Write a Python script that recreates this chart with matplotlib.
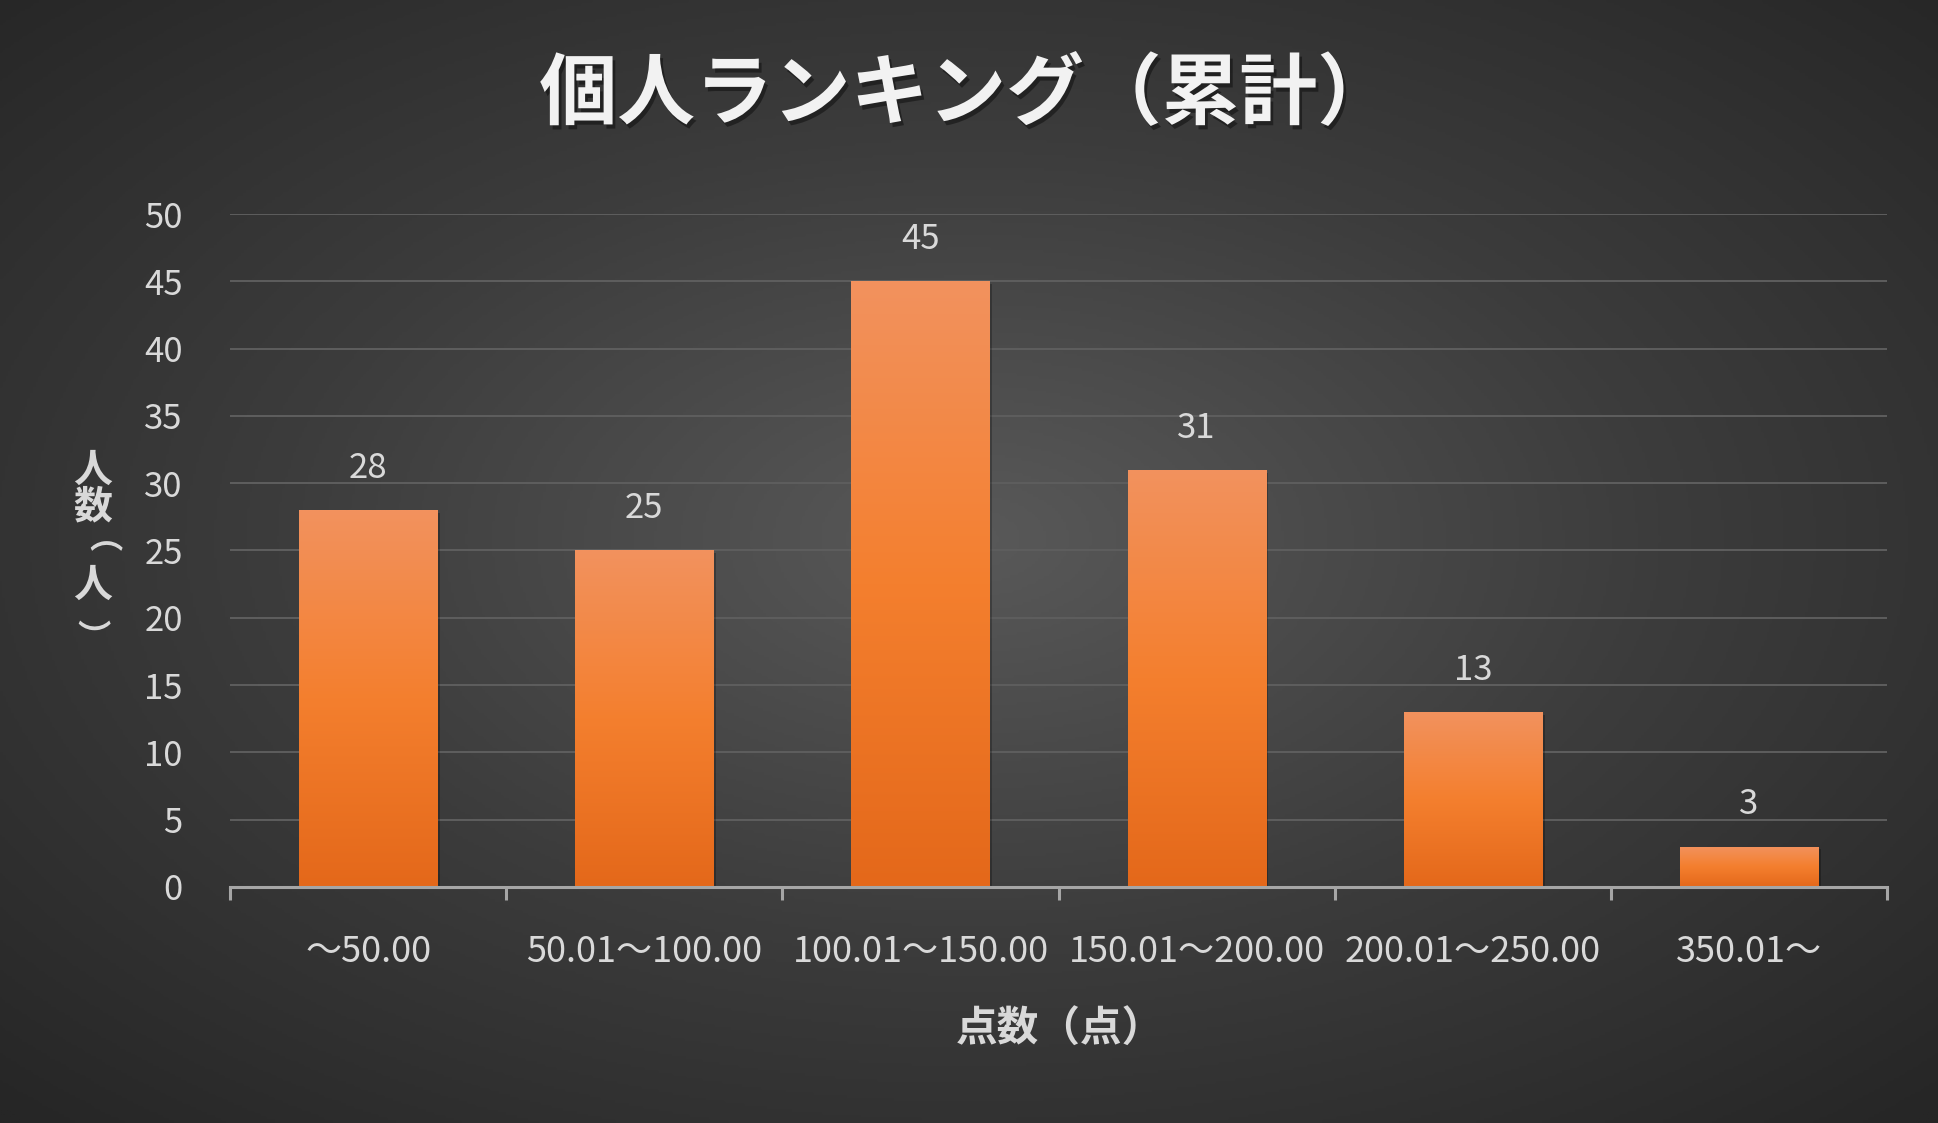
import numpy as np
import matplotlib
matplotlib.use("Agg")
import matplotlib.pyplot as plt
import matplotlib.patheffects as pe
from matplotlib.colors import LinearSegmentedColormap

plt.rcParams['font.family'] = ['Noto Sans CJK JP', 'DejaVu Sans']

# data
categories = ["～50.00", "50.01～100.00", "100.01～150.00",
              "150.01～200.00", "200.01～250.00", "350.01～"]
counts = [28, 25, 45, 31, 13, 3]
title = "個人ランキング（累計）"
xlabel = "点数（点）"
ylabel = "人数（人）"

txt = "#d9d9d9"

fig = plt.figure(figsize=(19.38, 11.23), dpi=100)

# radial gradient background
bg = fig.add_axes([0, 0, 1, 1], zorder=-10)
yy, xx = np.mgrid[0:1:400j, 0:1:700j]
r = np.sqrt(((xx - 0.5) / 0.75) ** 2 + ((yy - 0.52) / 0.75) ** 2)
r = np.clip(r / 0.95, 0, 1)
bgcmap = LinearSegmentedColormap.from_list("bg", ["#595959", "#3c3c3c", "#262626"])
bg.imshow(r, cmap=bgcmap, aspect="auto", extent=[0, 1, 0, 1], origin="lower")
bg.axis("off")

ax = fig.add_axes([0.1187, 0.2102, 0.855, 0.5992])
ax.set_facecolor("none")
x = np.arange(len(categories))
bars = ax.bar(x, counts, width=0.5, color="#f28034", zorder=3,
              path_effects=[pe.SimplePatchShadow(offset=(2, -2), alpha=0.25, shadow_rgbFace="black"),
                            pe.Normal()])

barcmap = LinearSegmentedColormap.from_list("bar", ["#e4681a", "#f47f2e", "#f2925e"])
grad = np.linspace(0, 1, 256).reshape(-1, 1)
for b in bars:
    x0, w, h = b.get_x(), b.get_width(), b.get_height()
    im = ax.imshow(grad, cmap=barcmap, aspect="auto", origin="lower",
                   extent=[x0, x0 + w, 0, h], zorder=4)
    im.set_clip_path(b)
    ax.annotate(str(h if h % 1 else int(h)), (x0 + w / 2, h), xytext=(0, 30),
                textcoords="offset points", ha="center", va="center",
                fontsize=25, color=txt)

ax.set_xlim(-0.5, len(categories) - 0.5)
ax.set_ylim(0, 50)
ax.set_yticks(range(0, 51, 5))
ax.yaxis.grid(True, color="#5e5e5e", lw=1.4, zorder=0)
ax.set_axisbelow(True)
for s in ["top", "right", "left"]:
    ax.spines[s].set_visible(False)
ax.spines["bottom"].set_color("#a6a6a6")
ax.spines["bottom"].set_linewidth(2.2)
ax.spines["bottom"].set_zorder(6)

ax.set_xticks(x)
ax.set_xticklabels(categories)
ax.set_xticks(np.arange(-0.5, len(categories)), minor=True)
ax.tick_params(axis="x", which="major", length=0, pad=34, labelsize=26, labelcolor=txt)
ax.tick_params(axis="x", which="minor", length=9, width=2.2, color="#a6a6a6", direction="out")
ax.tick_params(axis="y", length=0, pad=34, labelsize=25, labelcolor=txt)

fig.text(0.499, 0.915, title, ha="center", va="center", fontsize=56,
         fontweight="bold", color="#f2f2f2",
         path_effects=[pe.withSimplePatchShadow(offset=(2, -3), alpha=0.4, shadow_rgbFace="black")])
fig.text(0.547, 0.083, xlabel, ha="center", va="center", fontsize=30,
         fontweight="bold", color=txt)

# vertical y label, one character per line; brackets turned for vertical writing
ylab_y = [0.5815, 0.5485, 0.5156, 0.4791, 0.4461]
ylab_dx = [0, 0, -0.0066, 0, -0.0021]
ylab_dy = [0, 0, -0.0112, 0, -0.0123]
for ch, yv, dx, dy in zip(ylabel, ylab_y, ylab_dx, ylab_dy):
    paren = ch in "（）"
    fig.text(0.048 + dx, yv + dy, ch, ha="center", va="center",
             fontsize=24 if paren else 28, fontweight="bold", color=txt,
             rotation=-90 if paren else 0, rotation_mode="anchor")

fig.savefig("out.png", dpi=100)
